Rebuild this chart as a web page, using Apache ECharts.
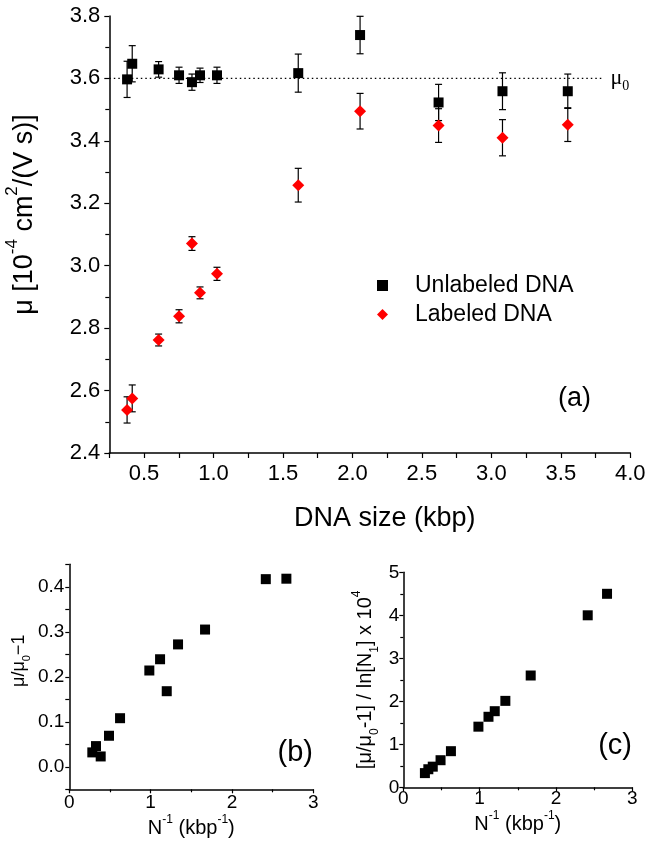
<!DOCTYPE html>
<html><head><meta charset="utf-8">
<script src="https://cdn.jsdelivr.net/npm/echarts@6/dist/echarts.min.js"></script>
<style>html,body{margin:0;padding:0;background:#fff}#c{width:646px;height:844px}</style>
</head><body><div id="c"></div>
<script>
// ---- data ----
const dnaSize      = [0.378, 0.415, 0.605, 0.752, 0.845, 0.903, 1.025, 1.61, 2.055, 2.62, 3.08, 3.55];
const muUnlabeled  = [3.597, 3.647, 3.629, 3.610, 3.588, 3.610, 3.610, 3.617, 3.739, 3.523, 3.559, 3.559];
const errUnlabeled = [0.058, 0.058, 0.025, 0.026, 0.026, 0.023, 0.026, 0.061, 0.060, 0.058, 0.059, 0.055];
const muLabeled    = [2.538, 2.575, 2.762, 2.838, 3.071, 2.913, 2.974, 3.258, 3.495, 3.449, 3.410, 3.452];
const errLabeled   = [0.042, 0.043, 0.019, 0.021, 0.022, 0.019, 0.021, 0.054, 0.057, 0.054, 0.058, 0.054];
const mu0 = 3.6;
const mu0LineStart = 0.25;
const mu0LineEnd = 3.8;
const invN   = [0.283, 0.328, 0.386, 0.488, 0.624, 0.984, 1.116, 1.198, 1.337, 1.669, 2.416, 2.669];
const relMu  = [0.032, 0.046, 0.023, 0.069, 0.108, 0.214, 0.239, 0.168, 0.272, 0.305, 0.417, 0.418];
const invN2  = [0.283, 0.328, 0.386, 0.488, 0.624, 0.984, 1.116, 1.198, 1.337, 1.669, 2.416, 2.669];
const relMuLn= [0.33, 0.42, 0.48, 0.63, 0.84, 1.41, 1.64, 1.77, 2.01, 2.60, 4.00, 4.50];
const seriesNames = ['Unlabeled DNA', 'Labeled DNA'];
const panelLabels = ['(a)', '(b)', '(c)'];

// ---- styling ----
const FONT = 'Liberation Sans, Arial, Helvetica, sans-serif';
const SERIF = 'Liberation Serif, Times New Roman, serif';
const BLACK = '#000';

function axisBase(fs, margin) {
  return {
    type: 'value',
    axisLine: { show: true, onZero: false, lineStyle: { color: BLACK, width: 1.5 } },
    axisTick: { show: true, length: 5, lineStyle: { color: BLACK, width: 1.2 } },
    minorTick: { show: true, splitNumber: 2, length: 4, lineStyle: { color: BLACK, width: 1.2 } },
    splitLine: { show: false },
    minorSplitLine: { show: false },
    axisLabel: { color: BLACK, fontSize: fs, fontFamily: FONT, margin: margin },
    nameTextStyle: { color: BLACK, fontFamily: FONT }
  };
}
function merge(a, b) {
  const o = Object.assign({}, a);
  for (const k in b) {
    if (b[k] && typeof b[k] === 'object' && !Array.isArray(b[k]) && a[k] && typeof a[k] === 'object') o[k] = Object.assign({}, a[k], b[k]);
    else o[k] = b[k];
  }
  return o;
}
function richTokens(fs) {
  const small = Math.round(fs * 0.62);
  return {
    t: { fontSize: fs, fontFamily: FONT, color: BLACK, lineHeight: Math.round(fs * 1.5) },
    sup: { fontSize: small, fontFamily: FONT, color: BLACK, verticalAlign: 'top', lineHeight: small },
    sub: { fontSize: small, fontFamily: FONT, color: BLACK, verticalAlign: 'bottom', lineHeight: small }
  };
}

function errRender(params, api) {
  const x = api.value(0), y = api.value(1), e = api.value(2);
  const hi = api.coord([x, y + e]), lo = api.coord([x, y - e]);
  const w = 3.5;
  const st = { stroke: BLACK, lineWidth: 1.2 };
  return {
    type: 'group', children: [
      { type: 'line', shape: { x1: hi[0], y1: hi[1], x2: lo[0], y2: lo[1] }, style: st },
      { type: 'line', shape: { x1: hi[0] - w, y1: hi[1], x2: hi[0] + w, y2: hi[1] }, style: st },
      { type: 'line', shape: { x1: lo[0] - w, y1: lo[1], x2: lo[0] + w, y2: lo[1] }, style: st }
    ]
  };
}

const chart = echarts.init(document.getElementById('c'), null, { renderer: 'canvas' });
const option = {
  animation: false,
  backgroundColor: '#fff',
  grid: [
    { left: 109.3, top: 16, width: 521, height: 437, outerBoundsMode: 'none', containLabel: false },
    { left: 69.3, top: 564.3, width: 244, height: 225, outerBoundsMode: 'none', containLabel: false },
    { left: 403.3, top: 572.3, width: 229, height: 215, outerBoundsMode: 'none', containLabel: false }
  ],
  xAxis: [
    merge(axisBase(22, 10), {
      gridIndex: 0, min: 0.25, max: 4.0, interval: 0.25,
      minorTick: { show: false },
      axisLabel: { formatter: v => (Math.abs(v * 2 - Math.round(v * 2)) < 1e-6 ? v.toFixed(1) : '') },
      name: 'DNA size (kbp)', nameLocation: 'middle', nameGap: 52,
      nameTextStyle: { fontSize: 27, padding: [0, 0, 0, 30] }
    }),
    merge(axisBase(19, 4), {
      gridIndex: 1, min: 0, max: 3, interval: 1,
      axisTick: { length: 4 }, minorTick: { length: 3 },
      name: '{t|N}{sup|-1}{t| (kbp}{sup|-1}{t|)}', nameLocation: 'middle', nameGap: 17,
      nameTextStyle: { fontSize: 20, rich: richTokens(20) }
    }),
    merge(axisBase(19, 2), {
      gridIndex: 2, min: 0, max: 3, interval: 1,
      axisTick: { length: 4 }, minorTick: { length: 3 },
      name: '{t|N}{sup|-1}{t| (kbp}{sup|-1}{t|)}', nameLocation: 'middle', nameGap: 17,
      nameTextStyle: { fontSize: 20, rich: richTokens(20) }
    })
  ],
  yAxis: [
    merge(axisBase(22, 9), {
      gridIndex: 0, min: 2.4, max: 3.8, interval: 0.2,
      axisLabel: { formatter: v => v.toFixed(1) },
      name: '{t|μ [10}{sup|-4}{t| cm}{sup|2}{t|/(V s)]}', nameLocation: 'middle', nameGap: 64,
      nameTextStyle: { fontSize: 27, rich: richTokens(27), padding: [0, 0, 0, 40] }
    }),
    merge(axisBase(19, 5), {
      gridIndex: 1, min: -0.05, max: 0.45, interval: 0.05,
      minorTick: { show: false }, axisTick: { length: 4 },
      axisLabel: { formatter: v => (Math.round(v * 100) % 10 === 0 ? (Math.abs(v) < 1e-9 ? 0 : v).toFixed(1) : '') },
      name: '{t|μ/μ}{sub|0}{t|−1}', nameLocation: 'middle', nameGap: 37,
      nameTextStyle: { fontSize: 18, rich: richTokens(18), padding: [0, 0, 0, 32] }
    }),
    merge(axisBase(19, 4), {
      gridIndex: 2, min: 0, max: 5, interval: 1,
      axisTick: { length: 4 }, minorTick: { length: 3 },
      name: '{t|[μ/μ}{sub|0}{t|-1] / ln[N}{sub|1}{t|] x 10}{sup|4}', nameLocation: 'middle', nameGap: 23,
      nameTextStyle: { fontSize: 20, rich: richTokens(20) }
    })
  ],
  legend: {
    data: seriesNames,
    orient: 'vertical', left: 372, top: 269,
    itemWidth: 11, itemHeight: 11, itemGap: 6,
    formatter: n => '{t|' + n + '}',
    textStyle: { color: BLACK, fontSize: 23, fontFamily: FONT,
      rich: { t: { fontSize: 23, fontFamily: FONT, color: BLACK, padding: [0, 0, 0, 22], lineHeight: 23 } } }
  },
  graphic: [
    { type: 'text', x: 558, y: 399, style: { text: panelLabels[0], fontSize: 27, fontFamily: FONT, fill: BLACK, verticalAlign: 'middle', align: 'left' } },
    { type: 'text', x: 313, y: 753, style: { text: panelLabels[1], fontSize: 29, fontFamily: FONT, fill: BLACK, verticalAlign: 'middle', align: 'right' } },
    { type: 'text', x: 632, y: 746, style: { text: panelLabels[2], fontSize: 29, fontFamily: FONT, fill: BLACK, verticalAlign: 'middle', align: 'right' } }
  ],
  series: [
    {
      type: 'line', xAxisIndex: 0, yAxisIndex: 0, silent: true, symbol: 'none', z: 1,
      data: [[mu0LineStart, mu0], [mu0LineEnd, mu0]],
      lineStyle: { color: BLACK, width: 1.2, type: [1.5, 3] },
      endLabel: { show: true, distance: 8, formatter: () => '{m|μ}{s|0}',
        rich: { m: { fontFamily: SERIF, fontSize: 22, color: BLACK, lineHeight: 30 }, s: { fontFamily: SERIF, fontSize: 14, color: BLACK, verticalAlign: 'bottom', lineHeight: 14 } } }
    },
    {
      type: 'custom', xAxisIndex: 0, yAxisIndex: 0, renderItem: errRender, z: 2, clip: false,
      encode: { x: 0, y: 1 },
      data: dnaSize.map((x, i) => [x, muUnlabeled[i], errUnlabeled[i]])
    },
    {
      type: 'custom', xAxisIndex: 0, yAxisIndex: 0, renderItem: errRender, z: 2, clip: false,
      encode: { x: 0, y: 1 },
      data: dnaSize.map((x, i) => [x, muLabeled[i], errLabeled[i]])
    },
    {
      name: seriesNames[0], type: 'scatter', xAxisIndex: 0, yAxisIndex: 0, z: 3,
      symbol: 'rect', symbolSize: 10, itemStyle: { color: BLACK, opacity: 1 },
      data: dnaSize.map((x, i) => [x, muUnlabeled[i]])
    },
    {
      name: seriesNames[1], type: 'scatter', xAxisIndex: 0, yAxisIndex: 0, z: 3,
      symbol: 'diamond', symbolSize: 12, itemStyle: { color: '#ff0000', opacity: 1 },
      data: dnaSize.map((x, i) => [x, muLabeled[i]])
    },
    {
      type: 'scatter', xAxisIndex: 1, yAxisIndex: 1, z: 3,
      symbol: 'rect', symbolSize: 10, itemStyle: { color: BLACK, opacity: 1 },
      data: invN.map((x, i) => [x, relMu[i]])
    },
    {
      type: 'scatter', xAxisIndex: 2, yAxisIndex: 2, z: 3,
      symbol: 'rect', symbolSize: 10, itemStyle: { color: BLACK, opacity: 1 },
      data: invN2.map((x, i) => [x, relMuLn[i]])
    }
  ]
};
chart.setOption(option);
</script>
</body></html>
